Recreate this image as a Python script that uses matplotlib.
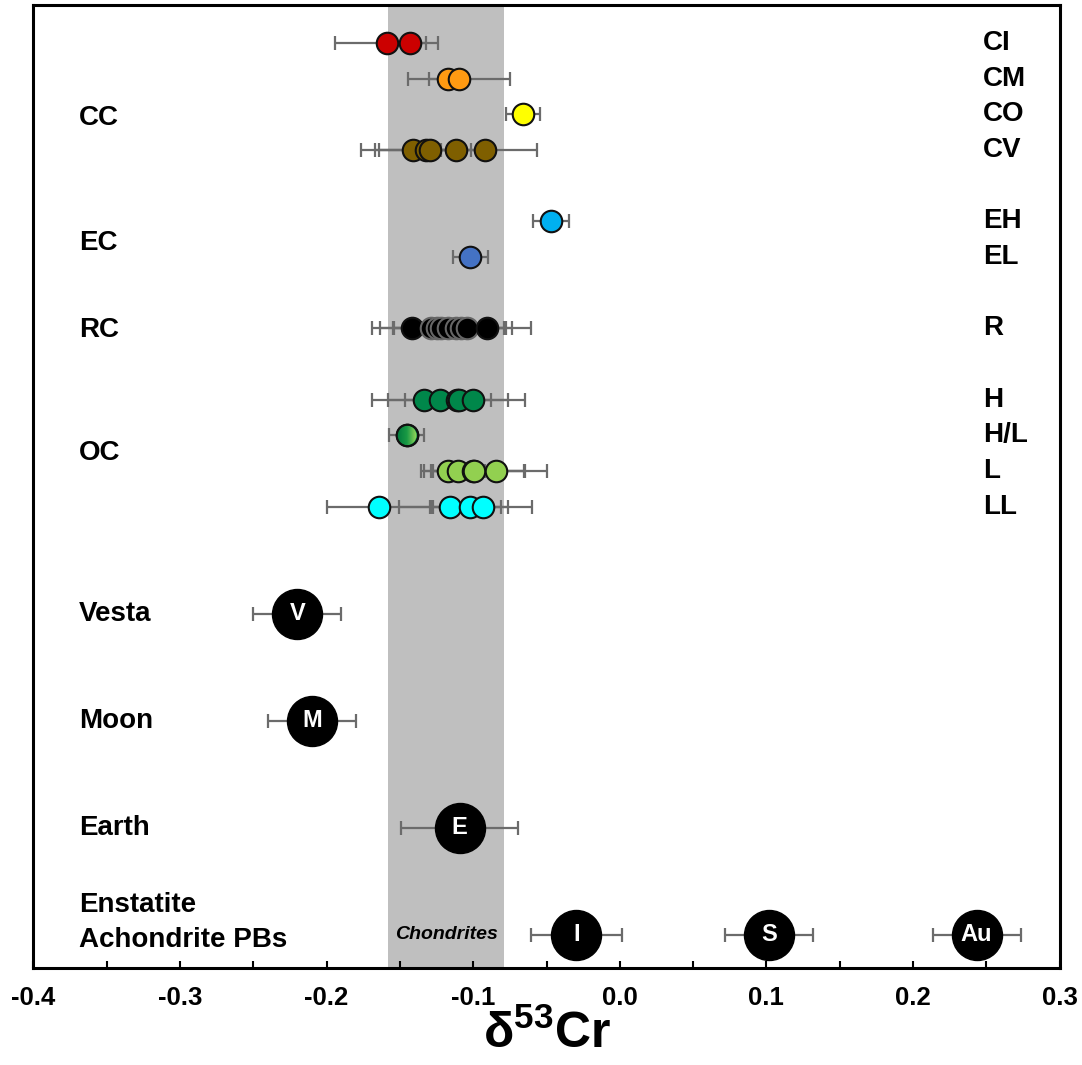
import numpy as np
import matplotlib
matplotlib.use("Agg")
from matplotlib import pyplot as plt
from matplotlib.patches import Ellipse
from matplotlib.colors import LinearSegmentedColormap

plt.rcParams['font.family'] = ['Liberation Sans', 'DejaVu Sans']
plt.rcParams['font.weight'] = 'bold'
plt.rcParams['axes.labelweight'] = 'bold'
plt.rcParams['mathtext.fontset'] = 'custom'
plt.rcParams['mathtext.rm'] = 'Liberation Sans:bold'
plt.rcParams['mathtext.bf'] = 'Liberation Sans:bold'
plt.rcParams['mathtext.default'] = 'rm'

# chondrite groups: row, colour, values, 2sd
groups = ["CI", "CM", "CO", "CV", "EH", "EL", "R", "H", "H/L", "L", "LL"]
group_rows = [1, 2, 3, 4, 6, 7, 9, 11, 12, 13, 14]
group_colors = ["#cc0000", "#ff9a12", "#ffff00", "#7f5f00", "#00b0f0", "#4472c4",
                "#000000", "#00874a", "#00874a", "#92d050", "#00ffff"]
group_x = [
    [-0.159, -0.143],
    [-0.1175, -0.1096],
    [-0.066],
    [-0.1414, -0.1323, -0.1296, -0.1118, -0.0918],
    [-0.047],
    [-0.102],
    [-0.1419, -0.1289, -0.1248, -0.1221, -0.1175, -0.1118, -0.1084, -0.1043, -0.0909],
    [-0.1339, -0.1228, -0.1113, -0.1096, -0.1000],
    [-0.1453],
    [-0.1175, -0.1103, -0.1004, -0.0993, -0.0845],
    [-0.1646, -0.1159, -0.1023, -0.0936],
]
group_err = [
    [0.035, 0.011],
    [0.0125, 0.035],
    [0.0115],
    [0.035, 0.035, 0.035, 0.010, 0.035],
    [0.012],
    [0.012],
    [0.027, 0.0346, 0.030, 0.032, 0.010, 0.033, 0.031, 0.031, 0.030],
    [0.035, 0.035, 0.035, 0.010, 0.035],
    [0.012],
    [0.010, 0.0186, 0.035, 0.0345, 0.035],
    [0.035, 0.035, 0.026, 0.034],
]

# planetary bodies
bodies = ["V", "M", "E", "I", "S", "Au"]
body_rows = [17, 20, 23, 26, 26, 26]
body_x = [-0.220, -0.2097, -0.1093, -0.0297, 0.1016, 0.2434]
body_err = [0.030, 0.030, 0.040, 0.031, 0.030, 0.030]

left_labels = ["CC", "EC", "RC", "OC", "Vesta", "Moon", "Earth", "Enstatite", "Achondrite PBs"]
left_rows = [3.1, 6.6, 9.04, 12.5, 17, 20, 23, 25.16, 26.14]

chondrite_band = (-0.158, -0.079)

fig = plt.figure(figsize=(10.82, 10.65), dpi=100)
ax = fig.add_axes([0.0309, 0.0911, 0.9484, 0.9042])
ax.set_xlim(-0.4, 0.3)
ax.set_ylim(26.93, -0.065)

ax.axvspan(chondrite_band[0], chondrite_band[1], color="#bfbfbf", lw=0, zorder=0)
ax.text(chondrite_band[0] + 0.005, 26, "Chondrites", style="italic", fontsize=14,
        ha="left", va="center", zorder=1)

ebkw = dict(fmt="none", ecolor="#6b6b6b", elinewidth=1.6, capsize=5, capthick=1.6, zorder=2)
ms = 15.5
for g, row, col, xs, es in zip(groups, group_rows, group_colors, group_x, group_err):
    ax.errorbar(xs, [row] * len(xs), xerr=es, **ebkw)
    for i, x in enumerate(xs):
        ec = "#111111"
        if g == "R" and 0 < i < len(xs) - 1:
            ec = "#666666"
        ax.plot(x, row, "o", ms=ms, mfc=col, mec=ec, mew=1.5, zorder=3)
    ax.text(0.2477, row, g, fontsize=20, ha="left", va="center")

# gradient fill for H/L marker
fig.canvas.draw()
inv = ax.transData.inverted()
d_px = (ms - 1.5) * 100 / 72
hl_x = group_x[groups.index("H/L")][0]
hl_row = group_rows[groups.index("H/L")]
cx, cy = ax.transData.transform((hl_x, hl_row))
x0, y0 = inv.transform((cx - d_px / 2, cy - d_px / 2))
x1, y1 = inv.transform((cx + d_px / 2, cy + d_px / 2))
ell = Ellipse((hl_x, hl_row), abs(x1 - x0), abs(y1 - y0), transform=ax.transData,
              facecolor="none", edgecolor="none")
ax.add_patch(ell)
cmap = LinearSegmentedColormap.from_list("hl", ["#007a3d", "#1a9a45", "#9ad85a"])
grad = np.linspace(0, 1, 64).reshape(1, -1)
im = ax.imshow(grad, cmap=cmap, extent=(min(x0, x1), max(x0, x1), max(y0, y1), min(y0, y1)),
               aspect="auto", zorder=3.5, interpolation="bilinear")
im.set_clip_path(ell)
ax.plot(hl_x, hl_row, "o", ms=ms, mfc="none", mec="#111111", mew=1.5, zorder=4)
ax.set_xlim(-0.4, 0.3)
ax.set_ylim(26.93, -0.065)

for b, row, x, e in zip(bodies, body_rows, body_x, body_err):
    ax.errorbar([x], [row], xerr=[e], **ebkw)
    ax.plot(x, row, "o", ms=36, mfc="black", mec="black", zorder=3)
    ax.text(x, row, b, color="white", fontsize=17, ha="center", va="center", zorder=4)

for lab, row in zip(left_labels, left_rows):
    ax.text(-0.369, row, lab, fontsize=20, ha="left", va="center")

major = np.round(np.arange(-0.4, 0.31, 0.1), 2)
ax.set_yticks([])
ax.set_xticks(major)
ax.set_xticks(np.round(np.arange(-0.35, 0.3, 0.1), 2), minor=True)
ax.set_xticklabels(["%.1f" % (v + 0.0) for v in major])
ax.tick_params(axis="x", which="both", direction="in", length=5, width=1.5,
               labelsize=18.5, pad=13)
for s in ax.spines.values():
    s.set_linewidth(2.2)
ax.set_xlabel("δ$^{53}$Cr", fontsize=36, fontweight="bold", labelpad=0)

fig.savefig("out.png", dpi=100)
